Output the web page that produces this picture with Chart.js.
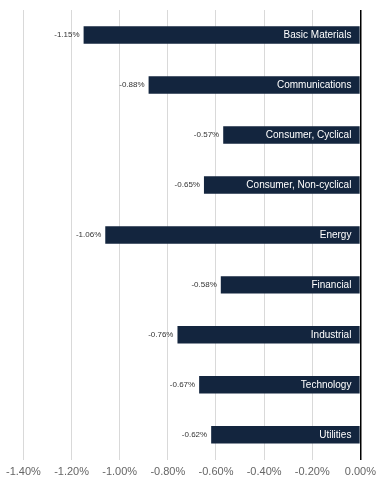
<!DOCTYPE html>
<html>
<head>
<meta charset="utf-8">
<script src="https://cdn.jsdelivr.net/npm/chart.js@4"></script>
<style>
  body { margin: 0; background: #fff; }
  #wrap { width: 382px; height: 485px; position: relative; }
</style>
</head>
<body>
<div id="wrap"><canvas id="sectorChart"></canvas></div>
<script>
const sectors = ['Basic Materials', 'Communications', 'Consumer, Cyclical', 'Consumer, Non-cyclical',
                 'Energy', 'Financial', 'Industrial', 'Technology', 'Utilities'];
const returns = [-1.15, -0.88, -0.57, -0.65, -1.06, -0.58, -0.76, -0.67, -0.62];
const axisMin = -1.4;
const axisMax = 0;
const axisStep = 0.2;

// labels drawn on the bars: sector name inside, value just left of the bar end
const barLabels = {
  id: 'barLabels',
  afterDatasetsDraw(chart) {
    const ctx = chart.ctx;
    const meta = chart.getDatasetMeta(0);
    const zeroX = chart.scales.x.getPixelForValue(0);
    ctx.save();
    ctx.textBaseline = 'middle';
    meta.data.forEach((bar, i) => {
      ctx.fillStyle = '#ffffff';
      ctx.font = '10px "Liberation Sans", Arial, sans-serif';
      ctx.textAlign = 'right';
      ctx.fillText(sectors[i], zeroX - 9, bar.y);
      ctx.fillStyle = '#333333';
      ctx.font = '8px "Liberation Sans", Arial, sans-serif';
      ctx.fillText(returns[i].toFixed(2) + '%', bar.x - 4, bar.y);
    });
    ctx.restore();
  }
};

function setupChart() {
  let ctx = document.getElementById('sectorChart');
  return new Chart(ctx, {
    type: 'bar',
    data: {
      labels: sectors,
      datasets: [{
        data: returns,
        backgroundColor: '#13253e',
        barPercentage: 0.7,
        categoryPercentage: 0.5
      }]
    },
    options: {
      indexAxis: 'y',
      responsive: true,
      maintainAspectRatio: false,
      animation: false,
      layout: { padding: { top: 10, left: 8, right: 20, bottom: 0 } },
      plugins: {
        legend: { display: false },
        tooltip: { enabled: false }
      },
      scales: {
        x: {
          min: axisMin,
          max: axisMax,
          ticks: {
            stepSize: axisStep,
            color: '#666666',
            font: { family: '"Liberation Sans", Arial, sans-serif', size: 11 },
            padding: 6,
            callback: v => v.toFixed(2) + '%'
          },
          grid: {
            color: c => (c.tick && c.tick.value === 0) ? '#000000' : '#d9d9d9',
            lineWidth: c => (c.tick && c.tick.value === 0) ? 1.5 : 1,
            drawTicks: false
          },
          border: { display: false }
        },
        y: {
          display: false,
          grid: { display: false }
        }
      }
    },
    plugins: [barLabels]
  });
}

setupChart();
</script>
</body>
</html>
